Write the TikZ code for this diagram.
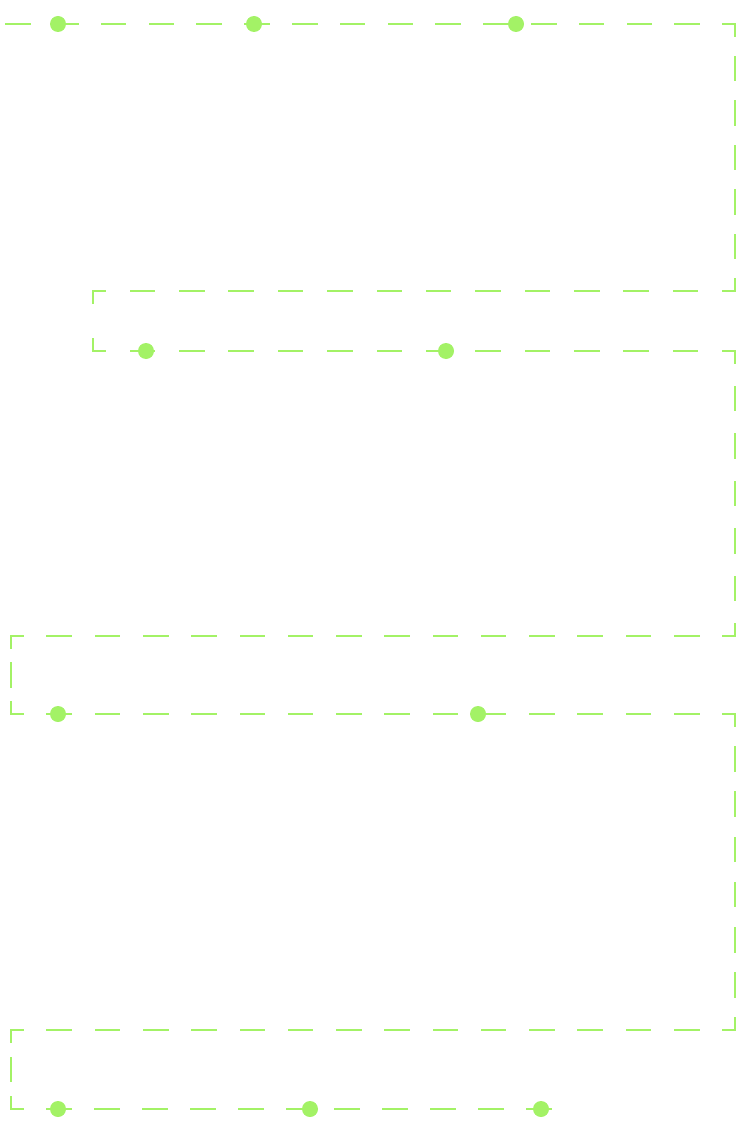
\documentclass[tikz,border=0pt]{standalone}
\usetikzlibrary{positioning}
\definecolor{lime}{RGB}{163,242,102}
\begin{document}
\begin{tikzpicture}[x=1pt, y=-1pt,
  dot/.style={circle, fill=lime, inner sep=0pt, minimum size=16pt},
  wire/.style={draw=lime, line width=1.6pt, line cap=rect, dash phase=12pt},
]
\useasboundingbox (0,0) rectangle (736,1134);
%turns of the path
\coordinate (start) at (6,24);
\coordinate (t1)  at (735,24);
\coordinate (t2)  at (735,291);
\coordinate (t3)  at (93,291);
\coordinate (t4)  at (93,351);
\coordinate (t5)  at (735,351);
\coordinate (t6)  at (735,636);
\coordinate (t7)  at (11,636);
\coordinate (t8)  at (11,714);
\coordinate (t9)  at (735,714);
\coordinate (t10) at (735,1030);
\coordinate (t11) at (11,1030);
\coordinate (t12) at (11,1109);
\coordinate (stop) at (551,1109);

%first run starts on a whole dash
\draw[wire, dash phase=0pt, dash pattern=on 24pt off 23.8pt] (start) -- (t1);
\foreach \fr / \tonode / \gap in { t1/t2/20.5, t2/t3/25.385, t3/t4/36,
  t4/t5/25.385, t5/t6/23.5, t6/t7/24.267, t7/t8/15, t8/t9/24.267,
  t9/t10/21.143, t10/t11/24.267, t11/t12/15.5, t12/stop/24 }
\draw[wire, dash pattern=on 24pt off \gap pt] (\fr) -- (\tonode);

%stops on the path
\foreach \name / \x / \y in { r1a/58/24, r1b/254/24, r1c/516/24,
  r2a/146/351, r2b/446/351, r3a/58/714, r3b/478/714,
  r4a/58/1109, r4b/310/1109, r4c/541/1109 }
\node[dot] (\name) at (\x,\y) {};
\end{tikzpicture}
\end{document}
